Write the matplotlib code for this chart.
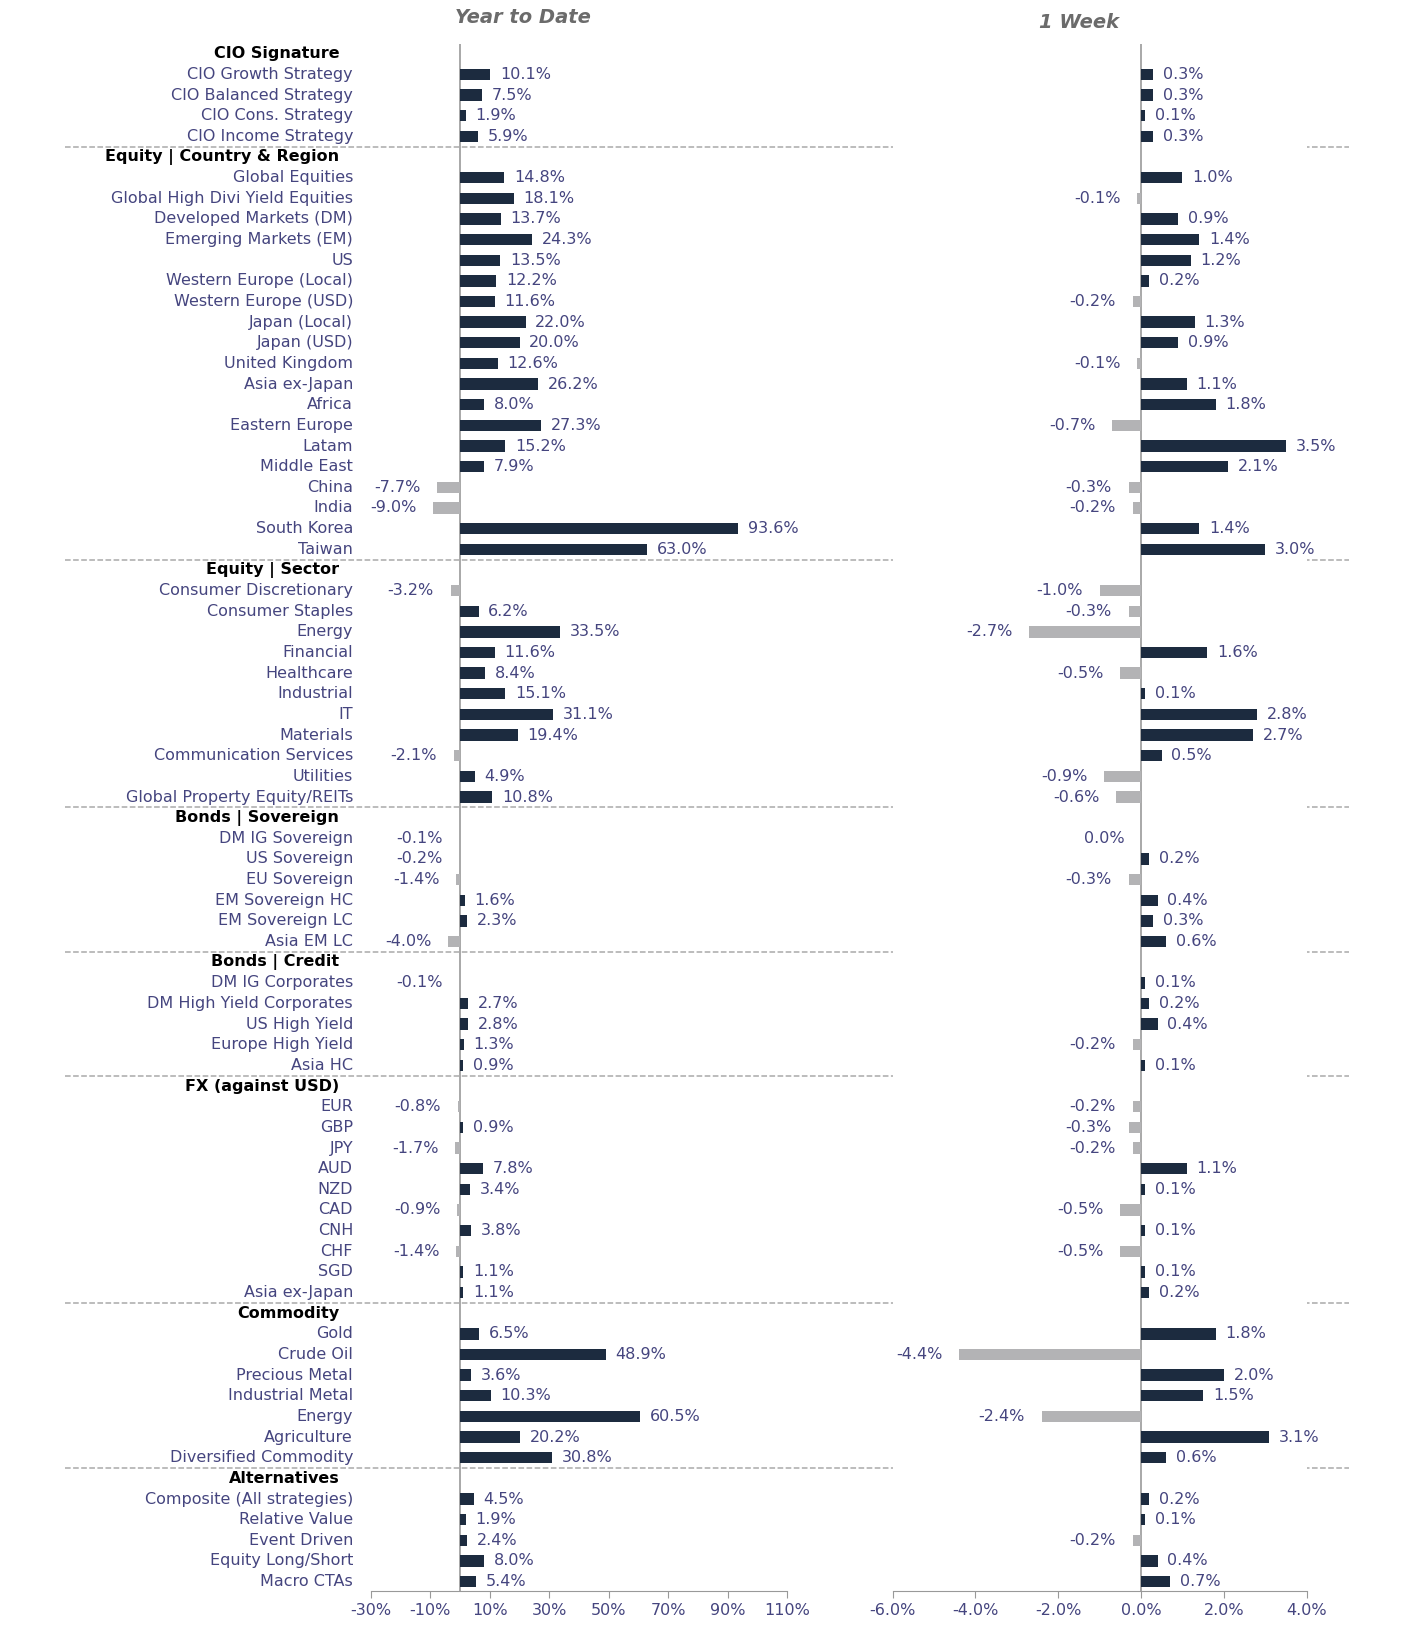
import matplotlib
matplotlib.use("Agg")
import matplotlib.pyplot as plt
from matplotlib.transforms import blended_transform_factory as btf

groups = ["CIO Signature", "Equity | Country & Region", "Equity | Sector", "Bonds | Sovereign",
          "Bonds | Credit", "FX (against USD)", "Commodity", "Alternatives"]
labels = [
    ["CIO Growth Strategy", "CIO Balanced Strategy", "CIO Cons. Strategy", "CIO Income Strategy"],
    ["Global Equities", "Global High Divi Yield Equities", "Developed Markets (DM)", "Emerging Markets (EM)",
     "US", "Western Europe (Local)", "Western Europe (USD)", "Japan (Local)", "Japan (USD)", "United Kingdom",
     "Asia ex-Japan", "Africa", "Eastern Europe", "Latam", "Middle East", "China", "India", "South Korea", "Taiwan"],
    ["Consumer Discretionary", "Consumer Staples", "Energy", "Financial", "Healthcare", "Industrial", "IT",
     "Materials", "Communication Services", "Utilities", "Global Property Equity/REITs"],
    ["DM IG Sovereign", "US Sovereign", "EU Sovereign", "EM Sovereign HC", "EM Sovereign LC", "Asia EM LC"],
    ["DM IG Corporates", "DM High Yield Corporates", "US High Yield", "Europe High Yield", "Asia HC"],
    ["EUR", "GBP", "JPY", "AUD", "NZD", "CAD", "CNH", "CHF", "SGD", "Asia ex-Japan"],
    ["Gold", "Crude Oil", "Precious Metal", "Industrial Metal", "Energy", "Agriculture", "Diversified Commodity"],
    ["Composite (All strategies)", "Relative Value", "Event Driven", "Equity Long/Short", "Macro CTAs"],
]
ytd = [
    [10.1, 7.5, 1.9, 5.9],
    [14.8, 18.1, 13.7, 24.3, 13.5, 12.2, 11.6, 22.0, 20.0, 12.6, 26.2, 8.0, 27.3, 15.2, 7.9, -7.7, -9.0, 93.6, 63.0],
    [-3.2, 6.2, 33.5, 11.6, 8.4, 15.1, 31.1, 19.4, -2.1, 4.9, 10.8],
    [-0.1, -0.2, -1.4, 1.6, 2.3, -4.0],
    [-0.1, 2.7, 2.8, 1.3, 0.9],
    [-0.8, 0.9, -1.7, 7.8, 3.4, -0.9, 3.8, -1.4, 1.1, 1.1],
    [6.5, 48.9, 3.6, 10.3, 60.5, 20.2, 30.8],
    [4.5, 1.9, 2.4, 8.0, 5.4],
]
week = [
    [0.3, 0.3, 0.1, 0.3],
    [1.0, -0.1, 0.9, 1.4, 1.2, 0.2, -0.2, 1.3, 0.9, -0.1, 1.1, 1.8, -0.7, 3.5, 2.1, -0.3, -0.2, 1.4, 3.0],
    [-1.0, -0.3, -2.7, 1.6, -0.5, 0.1, 2.8, 2.7, 0.5, -0.9, -0.6],
    [0.0, 0.2, -0.3, 0.4, 0.3, 0.6],
    [0.1, 0.2, 0.4, -0.2, 0.1],
    [-0.2, -0.3, -0.2, 1.1, 0.1, -0.5, 0.1, -0.5, 0.1, 0.2],
    [1.8, -4.4, 2.0, 1.5, -2.4, 3.1, 0.6],
    [0.2, 0.1, -0.2, 0.4, 0.7],
]

NAVY = "#1c2b3f"
GREY = "#b3b3b5"
TXT = "#45457f"

fig = plt.figure(figsize=(14.1, 16.52), dpi=100)
W, H = 1338, 1568
bot = 1 - 1510 / H
top = 1 - 42 / H
axL = fig.add_axes([352 / W, bot, (747 - 352) / W, top - bot])
axR = fig.add_axes([847 / W, bot, (1240 - 847) / W, top - bot])

rows = []
seps = []
r = 0
for g, labs, a, b in zip(groups, labels, ytd, week):
    if r > 0:
        seps.append(r - 0.5)
    rows.append(("h", g, None, None, r)); r += 1
    for l, va, vb in zip(labs, a, b):
        rows.append(("i", l, va, vb, r)); r += 1
nrows = r
ylim = (nrows - 1 + 0.45, -0.46)

for ax, xl, ticks, fmt, idx in [(axL, (-30, 110), [-30, -10, 10, 30, 50, 70, 90, 110], "{:.0f}%", 2),
                                (axR, (-6, 4), [-6, -4, -2, 0, 2, 4], "{:.1f}%", 3)]:
    ax.set_xlim(*xl)
    ax.set_ylim(*ylim)
    for s in ["left", "right", "top"]:
        ax.spines[s].set_visible(False)
    ax.spines["bottom"].set_color("#999999")
    ax.set_yticks([])
    ax.set_xticks(ticks)
    ax.set_xticklabels([fmt.format(t) for t in ticks], fontsize=11.5, color=TXT)
    ax.tick_params(axis="x", color="#999999", length=5)
    ax.axvline(0, color="#999999", lw=1.2, zorder=1)
    for kind, lab, va, vb, y in rows:
        if kind == "h":
            continue
        v = va if idx == 2 else vb
        ax.barh(y, v, height=0.55, color=NAVY if v > 0 else GREY, zorder=2)
        if v >= 0 and not (idx == 3 and v == 0):
            ax.annotate(f"{v:.1f}%", (v, y), xytext=(7, 0), textcoords="offset points",
                        ha="left", va="center", fontsize=11.5, color=TXT)
        else:
            ax.annotate(f"{v:.1f}%", (v, y), xytext=(-12, 0), textcoords="offset points",
                        ha="right", va="center", fontsize=11.5, color=TXT)

tr = btf(axL.transAxes, axL.transData)
for kind, lab, va, vb, y in rows:
    if kind == "h":
        axL.text(-0.076, y, lab, transform=tr, ha="right", va="center", fontsize=11.5,
                 fontweight="bold", color="black")
    else:
        axL.text(-0.043, y, lab, transform=tr, ha="right", va="center", fontsize=11.5, color=TXT)
for s in seps:
    axL.plot([(62 - 352) / 395, (1280 - 352) / 395], [s, s], transform=tr, ls="--",
             color="#aaaaaa", lw=1.1, clip_on=False)

fig.text(496 / W, 1 - 17 / H, "Year to Date", ha="center", va="center", fontsize=14,
         fontweight="bold", style="italic", color="#6b6b6b")
fig.text(1024 / W, 1 - 21 / H, "1 Week", ha="center", va="center", fontsize=14,
         fontweight="bold", style="italic", color="#6b6b6b")

fig.savefig("out.png", dpi=100)
